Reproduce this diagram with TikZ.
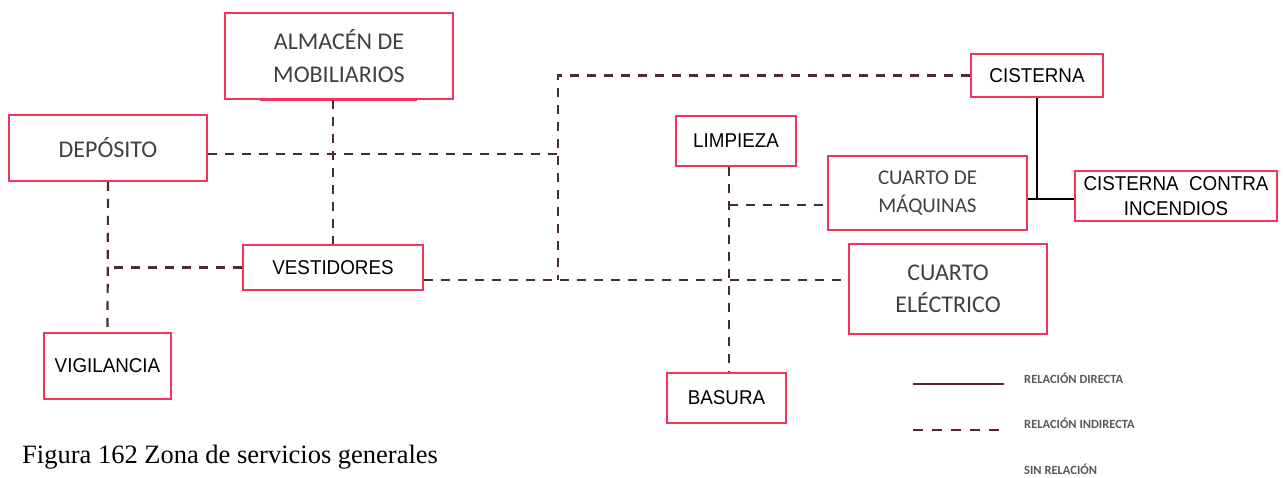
\documentclass[tikz,border=0pt]{standalone}
\usepackage{fontspec}
\setmainfont{Carlito}
\newfontfamily\cadfont[FakeStretch=0.94]{Liberation Sans}
\newfontfamily\capfont{Liberation Serif}
\definecolor{boxred}{HTML}{F7305C}
\definecolor{linebrown}{HTML}{4A2B33}
\definecolor{calgray}{HTML}{404040}
\definecolor{leggray}{HTML}{595959}
\definecolor{legline}{HTML}{5A2535}
\begin{document}
\begin{tikzpicture}[x=1pt,y=-1pt,
  box/.style={draw=boxred, line width=1.6pt, inner sep=0pt, align=center},
  calib/.style={font=\fontsize{24}{33}\selectfont, text=calgray},
  cad/.style={font=\cadfont\fontsize{20}{25}\selectfont, text=black},
  indirect/.style={draw=linebrown, line width=2.2pt, dash pattern=on 9pt off 8pt},
  direct/.style={draw=black, line width=1.5pt},
  legtext/.style={anchor=west, inner sep=0pt, font=\bfseries\fontsize{12.5}{14}\selectfont, text=leggray}
]
\useasboundingbox (0,0) rectangle (1284,477);
% boxes
\node[box, calib, minimum width=228pt, minimum height=86pt] (alm) at (339,56) {ALMACÉN DE\\MOBILIARIOS};
\node[box, calib, minimum width=198pt, minimum height=66pt] (dep) at (108,148) {DEPÓSITO};
\node[box, cad, minimum width=180pt, minimum height=45pt] (ves) at (333,267.5) {VESTIDORES};
\node[box, cad, minimum width=127pt, minimum height=66pt] (vig) at (107.5,366) {VIGILANCIA};
\node[box, cad, minimum width=120pt, minimum height=50pt] (lim) at (736,141) {LIMPIEZA};
\node[box, cad, minimum width=132pt, minimum height=43pt] (cis) at (1037,75.5) {CISTERNA};
\node[box, calib, font=\fontsize{21}{28}\selectfont, minimum width=199pt, minimum height=74pt] (maq) at (927.5,193) {CUARTO DE\\MÁQUINAS};
\node[box, cad, minimum width=202pt, minimum height=50pt] (inc) at (1176,196) {CISTERNA\ \ CONTRA\\INCENDIOS};
\node[box, calib, font=\fontsize{24}{32}\selectfont, minimum width=198pt, minimum height=90pt] (ele) at (948,289) {CUARTO\\ELÉCTRICO};
\node[box, cad, minimum width=119pt, minimum height=50pt] (bas) at (726.5,398) {BASURA};
\draw[boxred, line width=2.4pt] (260,100) -- (417,100);
% junctions
\coordinate (j1) at (558,280);
\coordinate (j2) at (558,154);
\coordinate (j3) at (729,205);
\coordinate (j4) at (1037,199);
% indirect relations
\draw[indirect] (cis.west) -| (j1);
\draw[indirect] (dep.east |- j2) -- (j2);
\draw[indirect] (alm.south -| ves.north) -- (ves.north);
\draw[indirect] (dep.south) -- (vig.north);
\draw[indirect] (ves.west) -- (ves.west -| dep.south);
\draw[indirect] (ves.east |- j1) -- (ele.west |- j1);
\draw[indirect] (lim.south -| j3) -- (bas.north -| j3);
\draw[indirect] (j3) -- (maq.west |- j3);
% direct relations
\draw[direct] (cis.south) -- (j4);
\draw[direct] (maq.east |- j4) -- (inc.west |- j4);
% legend
\coordinate (l1a) at (913,384);
\coordinate (l1b) at (1004,384);
\coordinate (l2a) at (913,430);
\coordinate (l2b) at (1004,430);
\draw[draw=legline, line width=2.8pt] (l1a) -- (l1b);
\draw[draw=legline, line width=2.8pt, dash pattern=on 10pt off 9pt] (l2a) -- (l2b);
\node[legtext] (lt1) at (1024,378) {RELACIÓN DIRECTA};
\node[legtext] (lt2) at (1024,423) {RELACIÓN INDIRECTA};
\node[legtext] (lt3) at (1024,469) {SIN RELACIÓN};
% caption
\node[anchor=base west, inner sep=0pt, font=\capfont\fontsize{26.5}{30}\selectfont] (cap) at (22,463) {Figura 162 Zona de servicios generales};
\end{tikzpicture}
\end{document}
